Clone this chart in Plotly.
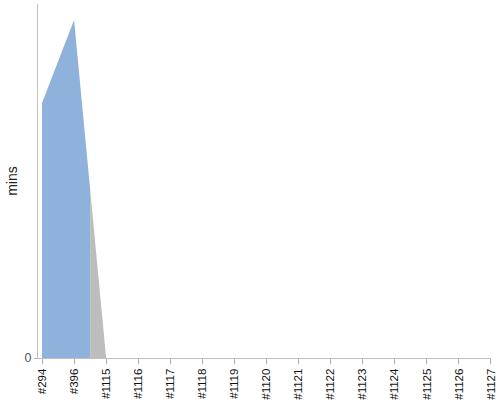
import plotly.graph_objects as go

# builds and the minutes each took
builds = ['#294', '#396', '#1115', '#1116', '#1117', '#1118', '#1119', '#1120',
          '#1121', '#1122', '#1123', '#1124', '#1125', '#1126', '#1127']
mins = [72, 95.5, 0, 0, 0, 0, 0, 0, 0, 0, 0, 0, 0, 0, 0]
status = ['ok', 'ok', 'other', 'other', 'other', 'other', 'other', 'other',
          'other', 'other', 'other', 'other', 'other', 'other', 'other']

COLORS = {'ok': '#8fb2dc', 'other': '#bdbdbd'}

idx = list(range(len(builds)))

fig = go.Figure()

# each point owns the area from the midpoint before it to the midpoint after it,
# so the colour changes halfway between two builds of different status
runs = []
start = 0
for i in range(1, len(idx) + 1):
    if i == len(idx) or status[i] != status[start]:
        runs.append((start, i - 1))
        start = i

for a, b in runs:
    xs, ys = [], []
    if a > 0:
        xs.append((idx[a - 1] + idx[a]) / 2)
        ys.append((mins[a - 1] + mins[a]) / 2)
    xs += idx[a:b + 1]
    ys += mins[a:b + 1]
    if b < len(idx) - 1:
        xs.append((idx[b] + idx[b + 1]) / 2)
        ys.append((mins[b] + mins[b + 1]) / 2)
    xs += [xs[-1], xs[0]]
    ys += [0, 0]
    fig.add_trace(go.Scatter(
        x=xs, y=ys, mode='lines', fill='toself',
        fillcolor=COLORS[status[a]], line=dict(width=0),
        hoverinfo='skip', showlegend=False,
    ))

fig.update_layout(
    width=500, height=400, autosize=False,
    margin=dict(l=38, r=9, t=4, b=42),
    paper_bgcolor='white', plot_bgcolor='white',
    font=dict(family='Liberation Sans, Arial', size=11, color='#222'),
    showlegend=False,
)
fig.update_xaxes(
    range=[-0.125, len(builds) - 1 + 0.002], tickvals=idx, ticktext=builds,
    tickangle=-90, ticks='outside', ticklen=5, tickcolor='#b0b0b0',
    showline=True, linecolor='#c0c0c0', showgrid=False, zeroline=False,
    tickfont=dict(size=11.5, color='#111'), automargin=False,
)
fig.update_yaxes(
    range=[0, 100], tickvals=[0], ticktext=['0'],
    ticks='outside', ticklen=3, tickcolor='#b0b0b0',
    showline=True, linecolor='#c0c0c0', showgrid=False, zeroline=False,
    title=dict(text='mins', font=dict(size=14, color='#222'), standoff=3),
    tickfont=dict(size=12.5, color='#555'), automargin=False,
)

# page body has a default 8px margin; drop it so the figure fills the window
fig.write_html("out.html", config={'displayModeBar': False},
               post_script="document.body.style.margin='0';")
